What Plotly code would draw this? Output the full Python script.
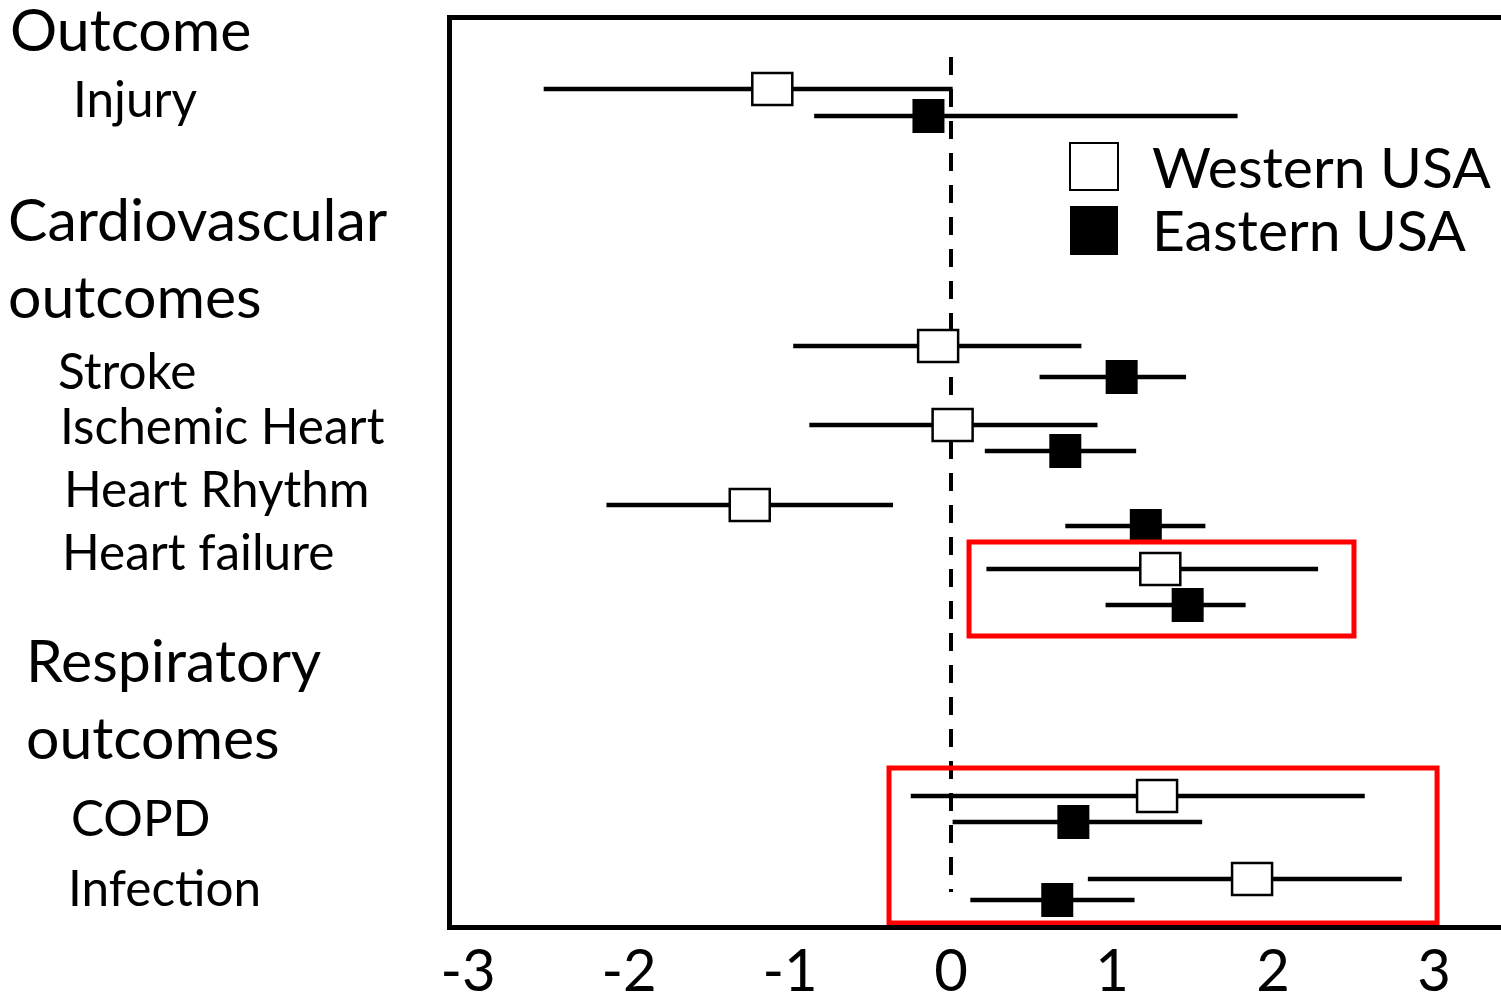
import plotly.graph_objects as go

# ---- data ----
outcomes = ["Injury", "Stroke", "Ischemic Heart", "Heart Rhythm", "Heart failure", "COPD", "Infection"]
west_est = [-1.11, -0.08, 0.01, -1.25, 1.30, 1.28, 1.87]
west_low = [-2.53, -0.98, -0.88, -2.14, 0.22, -0.25, 0.85]
west_high = [0.01, 0.81, 0.91, -0.36, 2.28, 2.57, 2.80]
east_est = [-0.14, 1.06, 0.71, 1.21, 1.47, 0.76, 0.66]
east_low = [-0.85, 0.55, 0.21, 0.71, 0.96, 0.01, 0.12]
east_high = [1.78, 1.46, 1.15, 1.58, 1.83, 1.56, 1.14]
x_ticks = [-3, -2, -1, 0, 1, 2, 3]

# vertical row positions (layout)
west_row = [1.44, 6.58, 8.16, 9.76, 11.04, 15.58, 17.24]
east_row = [1.98, 7.20, 8.68, 10.18, 11.76, 16.10, 17.66]

FONT = "Lato"
W, H = 1501, 1000
L, R, T, B = 452, 0, 20, 75
PW = W - L - R
PH = H - T - B

def px(v):
    return (v - L) / PW

def py(v):
    return 1 - (v - T) / PH

fig = go.Figure()

def whisker_xy(lo, hi, rows):
    xs, ys = [], []
    for a, b, r in zip(lo, hi, rows):
        xs += [a, b, None]
        ys += [r, r, None]
    return xs, ys

xw, yw = whisker_xy(west_low, west_high, west_row)
xe, ye = whisker_xy(east_low, east_high, east_row)
fig.add_trace(go.Scatter(x=xw, y=yw, mode="lines", line=dict(color="black", width=4.5),
                         name="Western USA", showlegend=False, hoverinfo="skip"))
fig.add_trace(go.Scatter(x=xe, y=ye, mode="lines", line=dict(color="black", width=4.5),
                         name="Eastern USA", showlegend=False, hoverinfo="skip"))

shapes = []
shapes.append(dict(type="line", xref="x", yref="y", x0=0, x1=0, y0=0.8, y1=17.5,
                   line=dict(color="black", width=4, dash="18px,14px"), layer="below"))

for v, r in zip(west_est, west_row):
    shapes.append(dict(type="rect", xref="x", yref="y", xsizemode="pixel", ysizemode="pixel",
                       xanchor=v, yanchor=r, x0=-20, x1=20, y0=-16, y1=16,
                       fillcolor="white", line=dict(color="black", width=2.5), layer="above"))
for v, r in zip(east_est, east_row):
    shapes.append(dict(type="rect", xref="x", yref="y", xsizemode="pixel", ysizemode="pixel",
                       xanchor=v, yanchor=r, x0=-16, x1=16, y0=-17, y1=17,
                       fillcolor="black", line=dict(color="black", width=0), layer="above"))

highlights = [(0.112, 2.503, 10.5, 12.38), (-0.385, 3.019, 15.02, 18.12)]
for x0, x1, y0, y1 in highlights:
    shapes.append(dict(type="rect", xref="x", yref="y", x0=x0, x1=x1, y0=y0, y1=y1,
                       line=dict(color="#FF0000", width=5), fillcolor="rgba(0,0,0,0)", layer="above"))

shapes.append(dict(type="rect", xref="paper", yref="paper", x0=px(1070), x1=px(1118),
                   y0=py(190), y1=py(143), fillcolor="white", line=dict(color="black", width=2)))
shapes.append(dict(type="rect", xref="paper", yref="paper", x0=px(1070), x1=px(1118),
                   y0=py(255), y1=py(206), fillcolor="black", line=dict(color="black", width=0)))

annotations = [
    dict(text="Western USA", x=px(1150), y=py(166)),
    dict(text="Eastern USA", x=px(1150), y=py(229)),
]
for a in annotations:
    a.update(xref="paper", yref="paper", xanchor="left", yanchor="middle", showarrow=False,
             font=dict(family=FONT, size=57, color="black"))

labels = [
    ("Outcome", 8, 29, 59),
    ("Injury", 71, 98, 49.5),
    ("Cardiovascular", 6, 218, 59),
    ("outcomes", 6, 295, 59),
    ("Stroke", 56, 370, 49.5),
    ("Ischemic Heart", 58, 425, 49.5),
    ("Heart Rhythm", 62, 488, 49.5),
    ("Heart failure", 60, 551, 49.5),
    ("Respiratory", 24, 659, 59),
    ("outcomes", 24, 736, 59),
    ("COPD", 69, 817, 49.5),
    ("Infection", 66, 887, 49.5),
]
for txt, lx, ly, fs in labels:
    annotations.append(dict(text=txt, xref="paper", yref="paper", x=px(lx), y=py(ly),
                            xanchor="left", yanchor="middle", showarrow=False,
                            font=dict(family=FONT, size=fs, color="black")))

fig.update_layout(
    width=W, height=H, autosize=False,
    margin=dict(l=L, r=R, t=T, b=B, pad=0, autoexpand=False),
    paper_bgcolor="white", plot_bgcolor="white",
    shapes=shapes, annotations=annotations,
    showlegend=False,
    font=dict(family=FONT, color="black"),
)
# 0 at x=951px, 161 px per unit; rows at 50 px per unit from y=17px
fig.update_xaxes(range=[(L - 951) / 161, (W - R - 951) / 161], tickvals=x_ticks,
                 ticktext=[str(t) for t in x_ticks],
                 showgrid=False, zeroline=False, showline=True, linecolor="black", linewidth=5,
                 mirror=True, ticks="", automargin=False, ticklabelstandoff=-9,
                 tickfont=dict(family=FONT, size=58, color="black"))
fig.update_yaxes(range=[(H - B - 17) / 50, (T - 17) / 50], showgrid=False, zeroline=False,
                 showline=True, automargin=False,
                 linecolor="black", linewidth=5, mirror=False, showticklabels=False, ticks="")

fig.write_html("out.html", config={"displayModeBar": False},
               post_script="document.body.style.margin='0px';document.body.style.overflow='hidden';")
